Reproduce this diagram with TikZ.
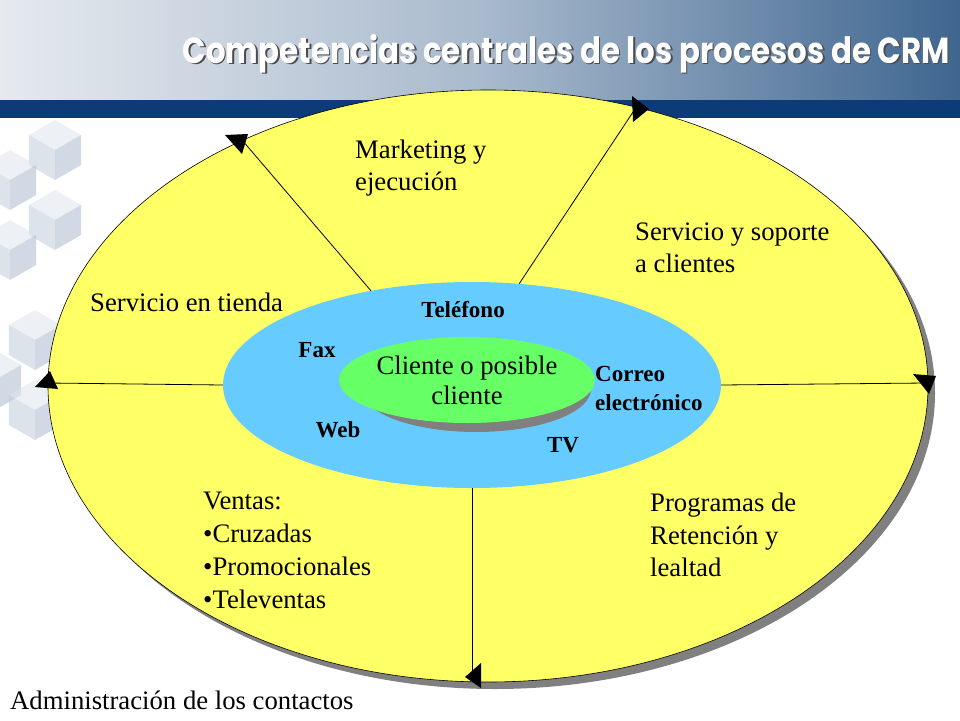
\documentclass[tikz,border=0pt]{standalone}
\usepackage{fontspec}
\setmainfont{Liberation Serif}
\newfontfamily\titlefont{Poppins}
\usetikzlibrary{shapes.geometric}
\definecolor{ylw}{HTML}{FFFF66}
\definecolor{sky}{HTML}{66CCFF}
\definecolor{grn}{HTML}{66FF66}
\definecolor{shd}{HTML}{808080}
\definecolor{band}{HTML}{0D3B78}
\definecolor{hdrL}{HTML}{E6EAEF}
\definecolor{hdrM}{HTML}{A9BACD}
\definecolor{hdrR}{HTML}{3F6690}
\definecolor{cubeA}{HTML}{DDE4EC}
\definecolor{cubeB}{HTML}{BCC9D8}
\definecolor{cubeC}{HTML}{A5B7CB}
\newcommand\mycube[3]{%
  \fill[cubeA,opacity=0.5] (#1,#2-#3) -- (#1+0.87*#3,#2-0.5*#3) -- (#1,#2) -- (#1-0.87*#3,#2-0.5*#3) -- cycle;
  \fill[cubeB,opacity=0.5] (#1-0.87*#3,#2-0.5*#3) -- (#1,#2) -- (#1,#2+#3) -- (#1-0.87*#3,#2+0.5*#3) -- cycle;
  \fill[cubeC,opacity=0.5] (#1,#2) -- (#1+0.87*#3,#2-0.5*#3) -- (#1+0.87*#3,#2+0.5*#3) -- (#1,#2+#3) -- cycle;}
\begin{document}
\begin{tikzpicture}[x=1pt,y=-1pt,
  lbl/.style={font=\fontsize{26.7}{32.5}\selectfont, align=left, anchor=west, inner sep=0},
  chan/.style={font=\fontsize{23}{29}\selectfont\bfseries, inner sep=0, align=left},
  conn/.style={draw=black, line width=0.8pt},
  tipfill/.style={fill=black}]
\useasboundingbox (0,0) rectangle (960,720);
\fill[white] (0,0) rectangle (960,720);
% header
\shade[left color=hdrL, right color=hdrR, middle color=hdrM] (0,0) rectangle (960,100);
\fill[band] (0,100) rectangle (960,118);
% decorative cubes
\mycube{55}{150}{30}
\mycube{10}{180}{30}
\mycube{55}{220}{30}
\mycube{10}{250}{30}
\mycube{35}{340}{30}
\mycube{-5}{380}{30}
\mycube{35}{410}{30}
% title
\node[anchor=base east, text=black!70, inner sep=0] (titleshadow) at (951.5,64.5)
  {\resizebox{767pt}{29pt}{\titlefont\bfseries Competencias centrales de los procesos de CRM}};
\node[anchor=base east, text=white, inner sep=0] (title) at (950,63)
  {\resizebox{767pt}{29pt}{\titlefont\bfseries Competencias centrales de los procesos de CRM}};
% outer ellipse
\fill[shd] (495,393) ellipse [x radius=440, y radius=296];
\node[draw=black, line width=0.6pt, ellipse, fill=ylw, minimum width=880pt, minimum height=592pt, inner sep=0] (outer) at (488,386) {};
% outer points
\coordinate (oTL) at (242,140);
\coordinate (oTR) at (637,106);
\coordinate (oL) at (48,383);
\coordinate (oR) at (926,383);
\coordinate (oB) at (472,682);
% blue ellipse
\node[ellipse, fill=sky, minimum width=498pt, minimum height=206pt, inner sep=0] (blue) at (472,385) {};
% connectors
\draw[conn] (blue.137) -- (oTL);
\draw[conn] (blue.65) -- (oTR);
\draw[conn] (blue.west) -- (oL);
\draw[conn] (blue.east) -- (oR);
\draw[conn] (blue.south) -- (oB);
% arrow heads
\fill[tipfill] (225,135) -- (248,134) -- (242,154) -- cycle;
\fill[tipfill] (632,96) -- (649,109) -- (633,122) -- cycle;
\fill[tipfill] (913,374) -- (936,376) -- (929,394) -- cycle;
\fill[tipfill] (481,663) -- (465,677) -- (481,688) -- cycle;
\fill[tipfill] (35,387) -- (50,371) -- (58,389) -- cycle;
% green ellipse
\fill[shd] (476,389) ellipse [x radius=115, y radius=43];
\node[ellipse, fill=grn, minimum width=230pt, minimum height=86pt, inner sep=0,
  font=\fontsize{26.7}{30}\selectfont, align=center] (client) at (467,380) {Cliente o posible\\cliente};
% channel labels
\node[chan] (tel) at (463,310) {Teléfono};
\node[chan] (fax) at (317,350) {Fax};
\node[chan] (web) at (338,430) {Web};
\node[chan] (tv) at (563,445) {TV};
\node[chan, anchor=west] (mail) at (595,388) {Correo\\electrónico};
% segment labels
\node[lbl] (mkt) at (355,168) {Marketing y\\ejecución};
\node[lbl] (serv) at (635,248) {Servicio y soporte\\a clientes};
\node[lbl] (tienda) at (90,302) {Servicio en tienda};
\node[lbl, font=\fontsize{26.7}{33}\selectfont] (ventas) at (203,550) {Ventas:\\•Cruzadas\\•Promocionales\\•Televentas};
\node[lbl] (ret) at (650,535) {Programas de\\Retención y\\lealtad};
\node[lbl] (admin) at (10,700) {Administración de los contactos};
\end{tikzpicture}
\end{document}
